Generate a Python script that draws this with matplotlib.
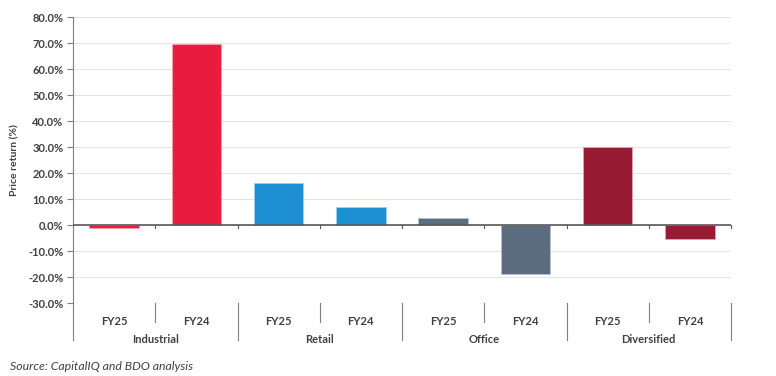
import matplotlib.pyplot as plt
from matplotlib.ticker import FuncFormatter

# data
sectors = ['Industrial', 'Retail', 'Office', 'Diversified']
periods = ['FY25', 'FY24']
industrial = [-1.3, 69.7]
retail = [16.3, 6.9]
office = [2.6, -18.9]
diversified = [30.0, -5.3]
colors = ['#E81D3D', '#1C8FD3', '#5B6D7E', '#971B32']
edges = ['#f4a5b1', '#9fcff0', '#b5c0ca', '#e0a3b0']

plt.rcParams['font.family'] = ['Lato', 'DejaVu Sans']

fig = plt.figure(figsize=(7.76, 3.76), dpi=100)
ax = fig.add_axes([73 / 776, 1 - 303 / 376, 658 / 776, 286 / 376])

values = [industrial, retail, office, diversified]
n = len(periods)
for i, (vals, c, e) in enumerate(zip(values, colors, edges)):
    xs = [i * n + j for j in range(n)]
    ax.bar(xs, vals, width=0.6, color=c, edgecolor=e, linewidth=0.6, zorder=3)

ax.set_xlim(-0.5, len(sectors) * n - 0.5)
ax.set_ylim(-30, 80)
ax.set_yticks(range(-30, 81, 10))
ax.yaxis.set_major_formatter(FuncFormatter(lambda v, p: f'{v:.1f}%'))
for lab in ax.get_yticklabels():
    lab.set_fontweight('bold')
ax.tick_params(axis='y', length=4, width=0.8, color='#7f7f7f', labelsize=8, labelcolor='#404040', pad=3)
ax.grid(axis='y', color='#e3e3e3', linewidth=0.8, zorder=0)
ax.set_axisbelow(True)
ax.set_ylabel('Price return (%)', fontsize=7.5, fontweight='bold', color='#404040', labelpad=6)

for s in ['top', 'right', 'bottom']:
    ax.spines[s].set_visible(False)
ax.spines['left'].set_color('#7f7f7f')
ax.spines['left'].set_linewidth(0.8)

# zero line with tick marks at slot boundaries
ax.axhline(0, color='#595959', linewidth=1.2, zorder=4)
ax.set_xticks([])
for k in range(1, len(sectors) * n + 1):
    ax.plot([k - 0.5, k - 0.5], [0, -1.3], color='#595959', linewidth=0.8, zorder=4, clip_on=False)

# category labels below axes
trans = ax.get_xaxis_transform()
for i, sec in enumerate(sectors):
    for j, per in enumerate(periods):
        ax.text(i * n + j, -0.045, per, transform=trans, ha='center', va='top',
                fontsize=8, fontweight='bold', color='#404040')
    ax.text(i * n + (n - 1) / 2, -0.11, sec, transform=trans, ha='center', va='top',
            fontsize=8, fontweight='bold', color='#404040')
    # separator between periods
    ax.plot([i * n + 0.5] * 2, [0, -0.068], transform=trans, color='#7f7f7f',
            linewidth=0.8, clip_on=False)
# group separators
for k in range(len(sectors) + 1):
    ax.plot([k * n - 0.5] * 2, [0, -0.13], transform=trans, color='#7f7f7f',
            linewidth=0.8, clip_on=False)

fig.text(10 / 776, 1 - 366 / 376, 'Source: CapitalIQ and BDO analysis', fontsize=8.8,
         fontstyle='italic', color='#404040', va='center')

fig.savefig('out.png', dpi=100)
